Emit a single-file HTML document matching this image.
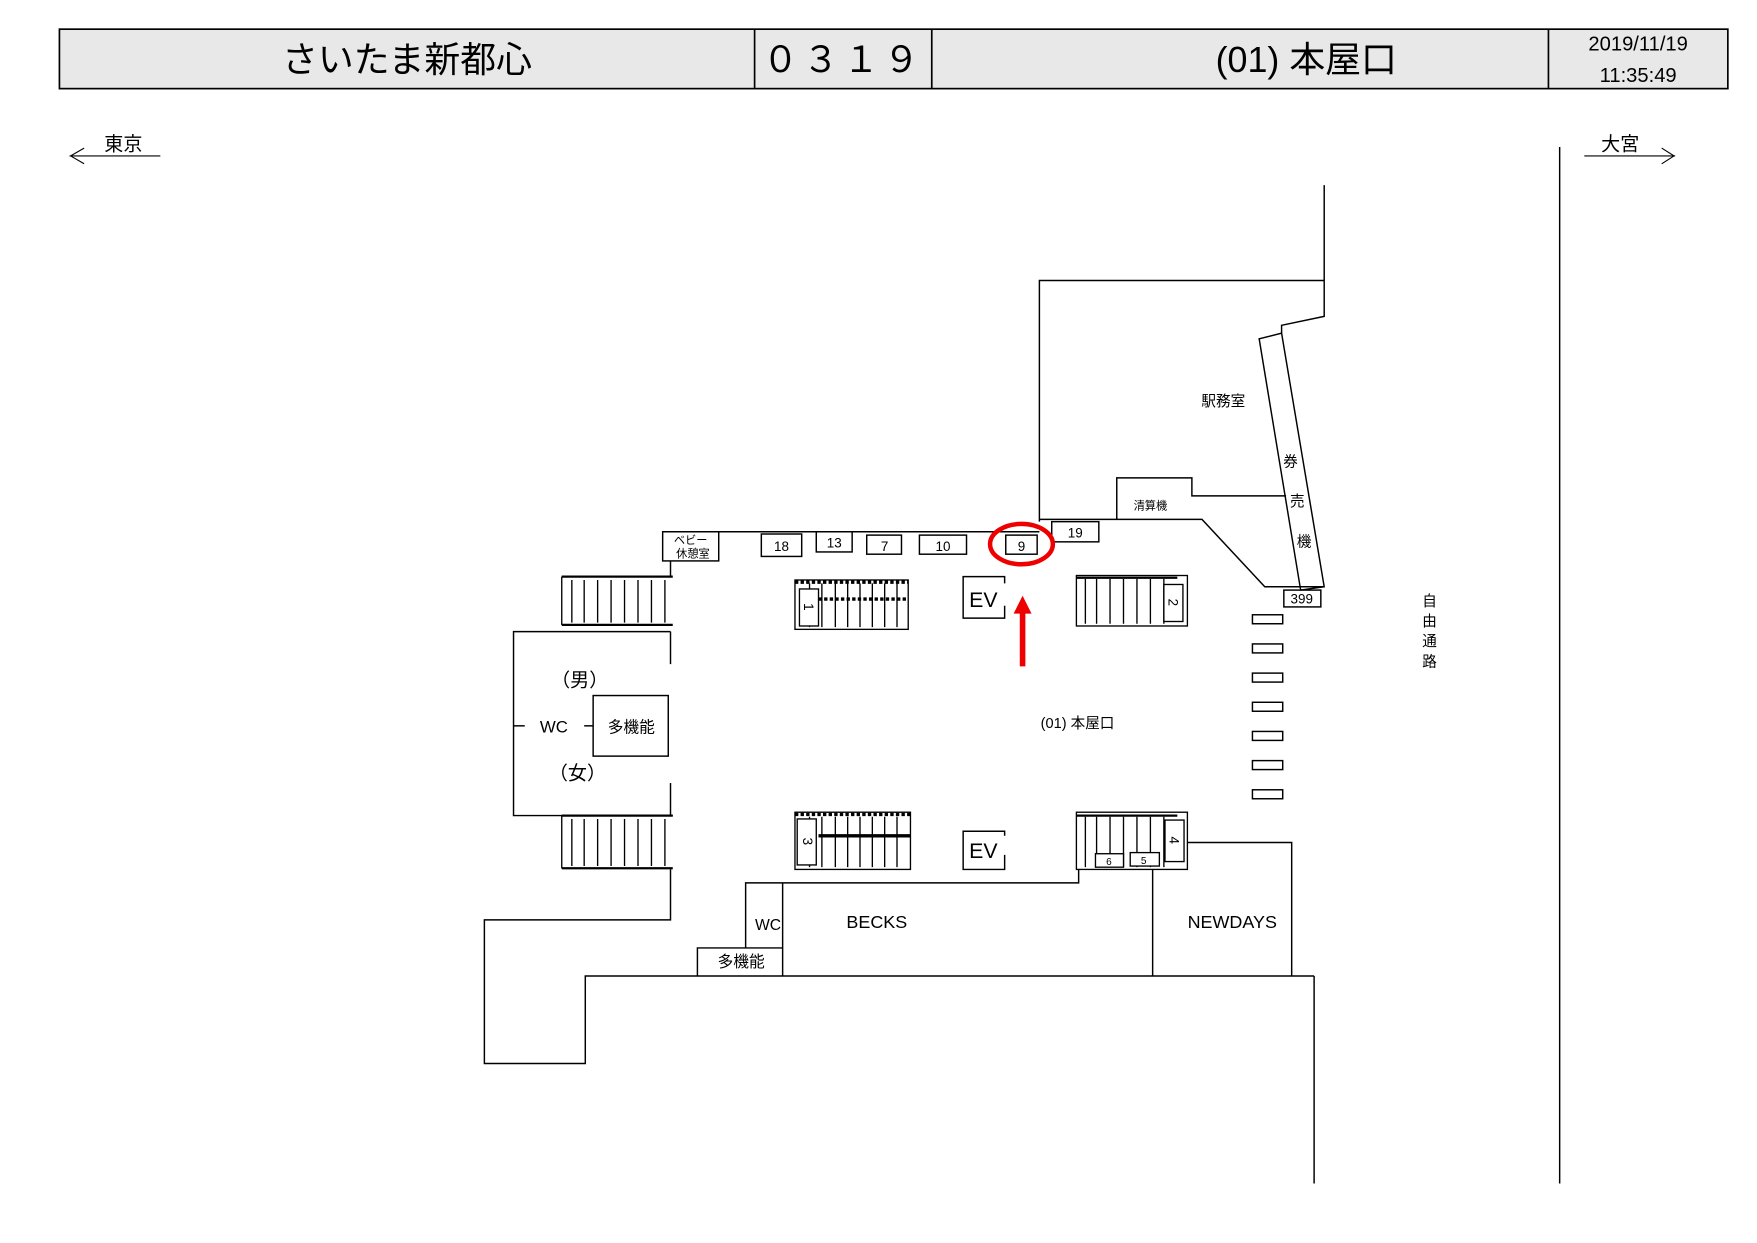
<!DOCTYPE html>
<html><head><meta charset="utf-8"><style>
html,body{margin:0;padding:0;background:#fff;}
svg{display:block;}
text{font-family:"Liberation Sans","Noto Sans CJK JP",sans-serif;fill:#000;}
</style></head><body>
<svg width="1757" height="1243" viewBox="0 0 1567 1108" preserveAspectRatio="none" xmlns="http://www.w3.org/2000/svg">
<!-- header -->
<rect x="53" y="26" width="1488" height="53" fill="#e8e8e8" stroke="#000" stroke-width="1.5"/>
<line x1="673" y1="26" x2="673" y2="79" stroke="#000" stroke-width="1.5"/>
<line x1="831" y1="26" x2="831" y2="79" stroke="#000" stroke-width="1.5"/>
<line x1="1381" y1="26" x2="1381" y2="79" stroke="#000" stroke-width="1.5"/>
<text x="363" y="64" font-size="32" text-anchor="middle">さいたま新都心</text>
<text x="752" y="64" font-size="32" text-anchor="middle" letter-spacing="4">０３１９</text>
<text x="1165" y="64" font-size="32" text-anchor="middle">(01)  本屋口</text>
<text x="1461" y="45" font-size="18" text-anchor="middle">2019/11/19</text>
<text x="1461" y="73" font-size="18" text-anchor="middle">11:35:49</text>
<!-- direction arrows -->
<text x="110" y="134" font-size="17" text-anchor="middle">東京</text>
<polyline points="62,139 143,139" stroke="#000" fill="none"/>
<polyline points="75,132 63,139 75,146" stroke="#000" fill="none"/>
<text x="1445" y="134" font-size="17" text-anchor="middle">大宮</text>
<polyline points="1413,139 1494,139" stroke="#000" fill="none"/>
<polyline points="1482,132 1493,139 1482,146" stroke="#000" fill="none"/>
<g stroke="#000" stroke-width="1.3" fill="none">
<line x1="1391" y1="131" x2="1391" y2="1055"/>
<line x1="1172" y1="870" x2="1172" y2="1055"/>
<polyline points="1181,165 1181,282 1143,290 1143,297"/>
<polyline points="927,465 927,250 1181,250"/>
<polygon points="1123,302 1143,297 1181,523 1160,526"/>
<polyline points="996,463 996,426 1063,426 1063,442 1147,442"/>
<polyline points="927,463 1072,463 1128,523 1181,523"/>
<line x1="591" y1="474" x2="927" y2="474"/>
<rect x="591" y="474" width="50" height="26"/>
<rect x="679" y="476" width="36" height="20"/>
<rect x="728" y="474" width="32" height="18"/>
<rect x="773" y="477" width="31" height="17"/>
<rect x="820" y="477" width="42" height="17"/>
<rect x="897" y="477" width="28" height="17"/>
<rect x="938" y="465" width="42" height="18"/>
<line x1="598" y1="500" x2="598" y2="513"/>
<polyline points="598,563 458,563 458,727 600,727"/>
<line x1="598" y1="563" x2="598" y2="592"/>
<line x1="598" y1="698" x2="598" y2="727"/>
<rect x="529" y="620" width="67" height="54"/>
<line x1="458" y1="647" x2="468" y2="647"/>
<line x1="521" y1="647" x2="529" y2="647"/>
<polyline points="598,775 598,820 432,820 432,948 522,948 522,870 1172,870"/>
<polyline points="665,845 665,787 962,787 962,775"/>
<polyline points="622,870 622,845 698,845"/>
<line x1="698" y1="787" x2="698" y2="870"/>
<line x1="1028" y1="775" x2="1028" y2="870"/>
<polyline points="1059,751 1152,751 1152,870"/>
<polyline points="896,520 896,514 859,514 859,551 896,551 896,540"/>
<polyline points="896,745 896,741 859,741 859,775 896,775 896,762"/>
<rect x="1117" y="548" width="27" height="8"/>
<rect x="1117" y="574" width="27" height="8"/>
<rect x="1117" y="600" width="27" height="8"/>
<rect x="1117" y="626" width="27" height="8"/>
<rect x="1117" y="652" width="27" height="8"/>
<rect x="1117" y="678" width="27" height="8"/>
<rect x="1117" y="704" width="27" height="8"/>
<rect x="1145" y="526" width="33" height="15"/>
</g>
<g stroke="#000" stroke-width="1.2" fill="none">
<line x1="501" y1="514" x2="600" y2="514" stroke-width="2"/>
<line x1="501" y1="557" x2="600" y2="557" stroke-width="2"/>
<line x1="501" y1="514" x2="501" y2="557"/>
<path d="M510 517V555M521 517V555M533 517V555M545 517V555M557 517V555M569 517V555M581 517V555M593 517V555"/>
<line x1="501" y1="727" x2="600" y2="727" stroke-width="2"/>
<line x1="501" y1="774" x2="600" y2="774" stroke-width="2"/>
<line x1="501" y1="727" x2="501" y2="774"/>
<path d="M510 730V772M521 730V772M533 730V772M545 730V772M557 730V772M569 730V772M581 730V772M593 730V772"/>
<rect x="709" y="517" width="101" height="44"/>
<line x1="709" y1="519" x2="810" y2="519" stroke-width="3" stroke-dasharray="3,2"/>
<line x1="730" y1="534" x2="810" y2="534" stroke-width="3" stroke-dasharray="3,2"/>
<path d="M722 520V559M733 520V559M745 520V559M756 520V559M767 520V559M778 520V559M789 520V559M800 520V559"/>
<rect x="713" y="525" width="17" height="33" fill="#fff"/>
<rect x="709" y="724" width="103" height="51"/>
<line x1="709" y1="726" x2="812" y2="726" stroke-width="3" stroke-dasharray="3,2"/>
<line x1="730" y1="745" x2="812" y2="745" stroke-width="3"/>
<path d="M722 728V773M733 728V773M745 728V773M756 728V773M767 728V773M778 728V773M789 728V773M800 728V773"/>
<rect x="711" y="730" width="17" height="41" fill="#fff"/>
<rect x="960" y="513" width="99" height="45"/>
<line x1="960" y1="515" x2="1050" y2="515" stroke-width="2"/>
<path d="M968 516V556M978 516V556M990 516V556M1002 516V556M1014 516V556M1026 516V556M1038 516V556"/>
<rect x="1038" y="521" width="17" height="33" fill="#fff"/>
<rect x="960" y="724" width="99" height="51"/>
<line x1="960" y1="727" x2="1050" y2="727" stroke-width="2"/>
<path d="M968 728V773M978 728V773M990 728V773M1002 728V773M1014 728V773M1026 728V773M1038 728V773"/>
<rect x="1039" y="731" width="17" height="37" fill="#fff"/>
<rect x="977" y="761" width="25" height="12" fill="#fff"/>
<rect x="1008" y="760" width="26" height="12" fill="#fff"/>
</g>
<ellipse cx="911" cy="485" rx="28" ry="18" fill="none" stroke="#e00" stroke-width="4"/>
<line x1="912" y1="594" x2="912" y2="545" stroke="#e00" stroke-width="5"/>
<polygon points="904,547 920,547 912,531" fill="#e00"/>
<g font-size="12" text-anchor="middle">
<text x="616" y="485" font-size="10">ベビー</text>
<text x="618" y="497" font-size="10">休憩室</text>
<text x="697" y="491">18</text>
<text x="744" y="488">13</text>
<text x="789" y="491">7</text>
<text x="841" y="491">10</text>
<text x="911" y="491">9</text>
<text x="959" y="479">19</text>
<text x="1026" y="454" font-size="10">清算機</text>
<text x="1091" y="362" font-size="13">駅務室</text>
<text x="1151" y="416" font-size="13">券</text>
<text x="1157" y="451" font-size="13">売</text>
<text x="1163" y="487" font-size="13">機</text>
<text x="1161" y="538">399</text>
<text x="1275" y="540" font-size="13">自</text>
<text x="1275" y="558" font-size="13">由</text>
<text x="1275" y="576" font-size="13">通</text>
<text x="1275" y="594" font-size="13">路</text>
<text x="961" y="649" font-size="13">(01) 本屋口</text>
<text x="877" y="541" font-size="19">EV</text>
<text x="877" y="765" font-size="19">EV</text>
<text x="517" y="612" font-size="17">（男）</text>
<text x="494" y="653" font-size="15">WC</text>
<text x="563" y="653" font-size="14">多機能</text>
<text x="515" y="695" font-size="17">（女）</text>
<text x="685" y="829" font-size="14">WC</text>
<text x="661" y="862" font-size="14">多機能</text>
<text x="782" y="827" font-size="16">BECKS</text>
<text x="1099" y="827" font-size="16">NEWDAYS</text>
<text x="989" y="771" font-size="9">6</text>
<text x="1020" y="770" font-size="9">5</text>
<text x="721" y="545" transform="rotate(90 721 541)">1</text>
<text x="720" y="754" transform="rotate(90 720 750)">3</text>
<text x="1046" y="541" transform="rotate(90 1046 537)">2</text>
<text x="1047" y="753" transform="rotate(90 1047 749)">4</text>
</g>
</svg>
</body></html>
